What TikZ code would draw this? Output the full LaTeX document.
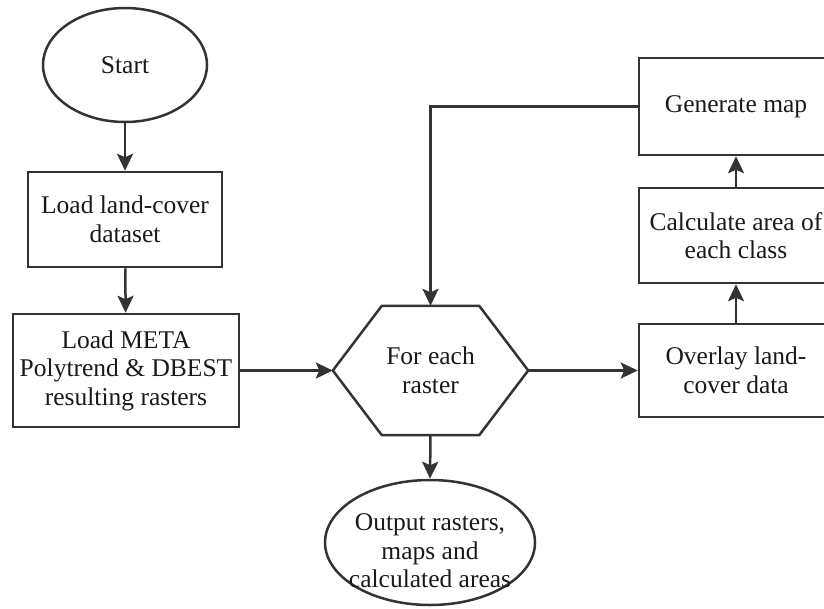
\documentclass[tikz,border=0pt]{standalone}
\usepackage{fontspec}
\setmainfont{Liberation Serif}
\usetikzlibrary{shapes.geometric,arrows.meta,calc}
\definecolor{linegray}{gray}{0.2}
\begin{document}
\begin{tikzpicture}[x=1pt,y=-1pt,
  every node/.style={font=\fontsize{25.5}{28.5}\selectfont, align=center, inner sep=0pt, text=black!90},
  ink/.style={draw=linegray, line width=2.5pt},
  stepbox/.style={ink, rectangle, minimum width=194pt},
  terminal/.style={ink, ellipse},
  flow/.style={draw=linegray, line width=2.5pt, -{Stealth[length=17pt,width=16pt,inset=3.5pt]}},
]
\useasboundingbox (0,0) rectangle (824,608);

% left column
\node[terminal, minimum width=164pt, minimum height=114pt] (start) at (125,65) {Start};
\node[stepbox, minimum height=95pt] (land) at (125,219.5) {Load land-cover\\dataset};
\node[stepbox, minimum width=226pt, minimum height=113pt] (meta) at (126,370.5) {Load META\\Polytrend \& DBEST\\resulting rasters};

% loop hexagon
\node[minimum width=195pt, minimum height=129pt] (hex) at (430.5,370.5) {For each\\raster};
\draw[ink, line join=miter]
  (hex.west) -- ($(hex.north west)+(49,0)$) -- ($(hex.north east)+(-49,0)$)
  -- (hex.east) -- ($(hex.south east)+(-49,0)$) -- ($(hex.south west)+(49,0)$) -- cycle;

% output terminal
\node[terminal, minimum width=210pt, minimum height=125pt] (out) at (430,542.5) {};
\node (outtext) at (430,551) {Output rasters,\\maps and\\calculated areas};

% right column
\node[stepbox, minimum height=93pt] (overlay) at (736,370.5) {Overlay land-\\cover data};
\node[stepbox, minimum height=95pt] (calc) at (736,235.5) {Calculate area of\\each class};
\node[stepbox, minimum height=97pt] (gen) at (736,106.5) {Generate map};

% connectors
\draw[flow] (start) -- (land);
\draw[flow] (land) -- (meta);
\draw[flow] (meta.east) -- (hex.west);
\draw[flow] (hex.south) -- (out.north);
\draw[flow] (hex.east) -- (overlay.west);
\draw[flow] (overlay) -- (calc);
\draw[flow] (calc) -- (gen);
\draw[flow] (gen.west) -| (hex.north);
\end{tikzpicture}
\end{document}
